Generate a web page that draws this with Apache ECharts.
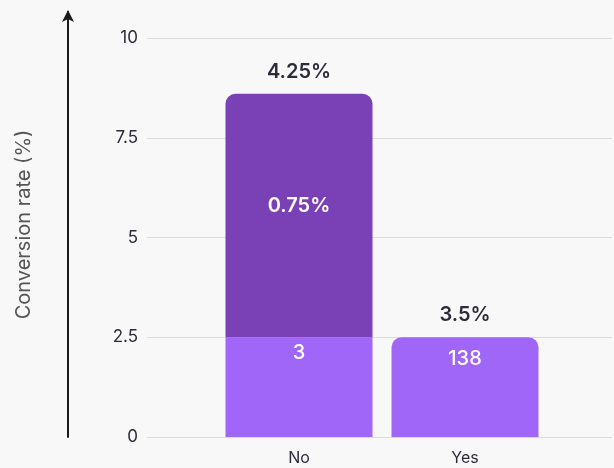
<!DOCTYPE html>
<html>
<head>
<meta charset="utf-8">
<script src="https://cdn.jsdelivr.net/npm/echarts@6/dist/echarts.min.js"></script>
<style>
  html, body { margin: 0; padding: 0; background: #f8f8f8; }
  #chart { width: 614px; height: 468px; }
</style>
</head>
<body>
<div id="chart"></div>
<script>
// Categories and values (conversion rate, %)
const categories = ['No', 'Yes'];
const baseRate = [2.5, 2.5];
const extraRate = [6.1, 0];
const totalLabels = ['4.25%', '3.5%'];
const extraLabels = ['0.75%', ''];
const baseLabels = ['3', '138'];
const yTicks = [0, 2.5, 5, 7.5, 10];

const FONT = 'Inter, "Noto Sans", sans-serif';
const DARK = '#7a40b6';
const LIGHT = '#9f66f7';
const TEXT = '#2b2b3a';

const chart = echarts.init(document.getElementById('chart'), null, { renderer: 'canvas' });

const yMin = yTicks[0];
const yMax = yTicks[yTicks.length - 1];
const yStep = yTicks[1] - yTicks[0];

// the top of each stack gets rounded corners
const topIndex = categories.map((_, i) => (extraRate[i] > 0 ? 'extra' : 'base'));

const baseData = baseRate.map((v, i) => ({
  value: v,
  itemStyle: { borderRadius: topIndex[i] === 'base' ? [10, 10, 0, 0] : 0 },
  label: { formatter: baseLabels[i], distance: i === 0 ? 6 : 12 }
}));
const extraData = extraRate.map((v, i) => ({
  value: v,
  itemStyle: { borderRadius: [10, 10, 0, 0] },
  label: { formatter: extraLabels[i] }
}));
const totalData = categories.map((_, i) => ({
  value: 0,
  label: { formatter: totalLabels[i] }
}));

chart.setOption({
  backgroundColor: '#f8f8f8',
  animation: false,
  textStyle: { fontFamily: FONT },
  grid: [
    { left: 147, right: 2, top: 38, bottom: 31 },   // gridlines and tick labels
    { left: 216, width: 332, top: 38, bottom: 31 }, // bars
    { left: 68, width: 1, top: 12, bottom: 31 }     // arrow axis with title
  ],
  xAxis: [
    { gridIndex: 0, type: 'value', show: false },
    {
      gridIndex: 1, type: 'category', data: categories,
      axisLine: { show: false }, axisTick: { show: false },
      axisLabel: { color: TEXT, fontSize: 16, fontFamily: FONT, margin: 13 }
    },
    { gridIndex: 2, type: 'value', show: false }
  ],
  yAxis: [
    {
      gridIndex: 0, type: 'value', min: yMin, max: yMax, interval: yStep,
      axisLine: { show: false }, axisTick: { show: false },
      axisLabel: { color: TEXT, fontSize: 17, fontFamily: FONT, margin: 9 },
      splitLine: { lineStyle: { color: '#dcdcdc', width: 1 } }
    },
    {
      gridIndex: 1, type: 'value', min: yMin, max: yMax, interval: yStep,
      show: false
    },
    {
      gridIndex: 2, type: 'value', min: 0, max: 1,
      axisLine: {
        show: true, onZero: false,
        symbol: ['none', 'arrow'], symbolSize: [9, 12], symbolOffset: [0, 2],
        lineStyle: { color: '#1a1a1a', width: 2 }
      },
      axisTick: { show: false }, axisLabel: { show: false }, splitLine: { show: false },
      name: 'Conversion rate (%)', nameLocation: 'middle', nameGap: 34, nameRotate: 90,
      nameTextStyle: { color: '#555', fontSize: 20, fontFamily: FONT }
    }
  ],
  series: [
    {
      type: 'bar', xAxisIndex: 1, yAxisIndex: 1, stack: 'rate',
      barWidth: 147, data: baseData,
      itemStyle: { color: LIGHT },
      label: {
        show: true, position: 'insideTop', color: '#fff',
        fontSize: 20, fontWeight: 500, fontFamily: FONT
      }
    },
    {
      type: 'bar', xAxisIndex: 1, yAxisIndex: 1, stack: 'rate',
      barWidth: 147, data: extraData,
      itemStyle: { color: DARK },
      label: {
        show: true, position: 'inside', offset: [0, -10], color: '#fff',
        fontSize: 20, fontWeight: 600, fontFamily: FONT
      }
    },
    {
      type: 'bar', xAxisIndex: 1, yAxisIndex: 1, stack: 'rate',
      barWidth: 147, data: totalData,
      itemStyle: { color: 'transparent' },
      label: {
        show: true, position: 'top', distance: 12, color: TEXT,
        fontSize: 20, fontWeight: 600, fontFamily: FONT
      }
    }
  ]
});
</script>
</body>
</html>
